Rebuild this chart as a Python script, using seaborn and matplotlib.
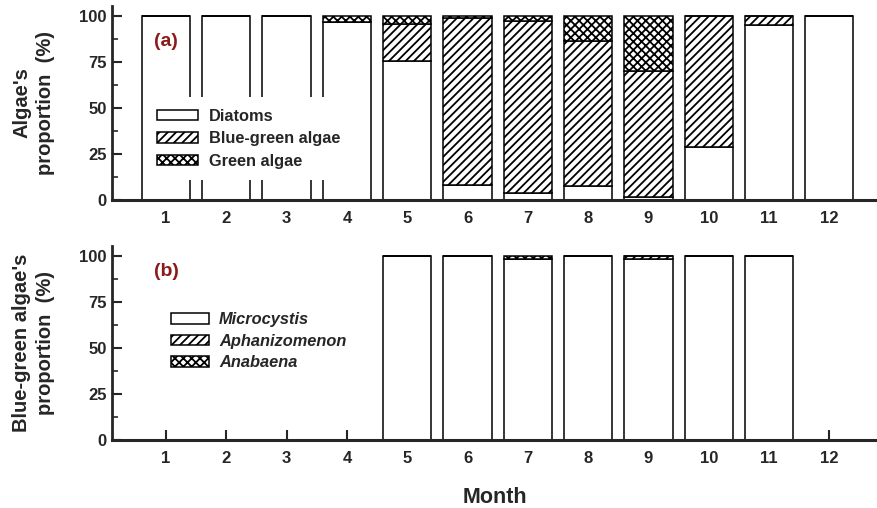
import numpy as np
import pandas as pd
import matplotlib
matplotlib.use('Agg')
import matplotlib.pyplot as plt
import seaborn as sns

sns.set_style('ticks')
plt.rcParams['font.family'] = ['Liberation Sans', 'DejaVu Sans']
plt.rcParams['hatch.linewidth'] = 1.3

# data (percent of total)
months = list(range(1, 13))

# (a) algae groups
diatoms = [100, 100, 100, 96.5, 75.5, 8.2, 3.6, 7.8, 1.8, 29, 95, 100]
blue_green = [0, 0, 0, 0, 20.3, 90.5, 93.9, 78.8, 68.5, 71, 5, 0]
green = [0, 0, 0, 3.5, 4.2, 1.3, 2.5, 13.4, 29.7, 0, 0, 0]

# (b) blue-green algae genera
microcystis = [0, 0, 0, 0, 100, 100, 98.5, 100, 98.5, 100, 100, 0]
aphanizomenon = [0, 0, 0, 0, 0, 0, 0, 0, 1.5, 0, 0, 0]
anabaena = [0, 0, 0, 0, 0, 0, 1.5, 0, 0, 0, 0, 0]

labels_a = ['Diatoms', 'Blue-green algae', 'Green algae']
labels_b = ['Microcystis', 'Aphanizomenon', 'Anabaena']
hatches = ['', '////', 'xxxx']

fig = plt.figure(figsize=(8.77, 5.08), dpi=100)
ax_a = fig.add_axes([112 / 877, 1 - 200 / 508, 765 / 877, 194 / 508])
ax_b = fig.add_axes([112 / 877, 1 - 440 / 508, 765 / 877, 194 / 508])


def stacked(ax, layers, names):
    bottom = np.zeros(len(months))
    for vals, name, h in zip(layers, names, hatches):
        df = pd.DataFrame({'month': months, 'pct': vals})
        sns.barplot(data=df, x='month', y='pct', native_scale=True, width=0.8,
                    color='white', edgecolor='black', linewidth=1.1, hatch=h,
                    bottom=bottom, errorbar=None, label=name, ax=ax)
        bottom = bottom + np.array(vals)


stacked(ax_a, [diatoms, blue_green, green], labels_a)
stacked(ax_b, [microcystis, aphanizomenon, anabaena], labels_b)

for ax, ylab in [(ax_a, "Algae's\nproportion  (%)"),
                 (ax_b, "Blue-green algae's\nproportion  (%)")]:
    ax.set_xlim(0.1045, 12.79)
    ax.set_ylim(0, 105.4)
    ax.set_xticks(months)
    ax.set_xticklabels([str(m) for m in months], fontweight='bold', fontsize=12)
    ax.set_yticks([0, 25, 50, 75, 100])
    ax.set_yticklabels(['0', '25', '50', '75', '100'], fontweight='bold', fontsize=12)
    ax.set_yticks(np.arange(12.5, 100, 25), minor=True)
    ax.tick_params(axis='both', which='major', direction='in', length=7, width=1.5)
    ax.tick_params(axis='y', which='minor', direction='in', length=4, width=1.2)
    ax.tick_params(axis='x', pad=8)
    ax.tick_params(axis='y', pad=4)
    ax.set_axisbelow(True)
    sns.despine(ax=ax)
    ax.spines['left'].set_linewidth(2)
    ax.spines['bottom'].set_linewidth(2.2)
    ax.set_ylabel(ylab, fontsize=14.5, fontweight='bold', linespacing=1.3)
    ax.yaxis.set_label_coords(-0.075, 0.5)
    ax.set_xlabel('')

ax_a.text(1, 86, '(a)', color='#8b1a1a', fontsize=14, fontweight='bold',
          ha='center', va='center')
ax_b.text(1, 91.5, '(b)', color='#8b1a1a', fontsize=14, fontweight='bold',
          ha='center', va='center')

leg_a = ax_a.legend(loc='upper left', bbox_to_anchor=(0.043, 0.531), borderaxespad=0,
                    borderpad=0.72, frameon=True, fancybox=False, edgecolor='none',
                    facecolor='white', framealpha=1, handlelength=2.55,
                    handleheight=0.6, handletextpad=0.65, labelspacing=0.45,
                    prop={'size': 11.8, 'weight': 'bold'})
leg_b = ax_b.legend(loc='upper left', bbox_to_anchor=(0.0614, 0.7196), borderaxespad=0,
                    borderpad=0.72, frameon=False, handlelength=2.35,
                    handleheight=0.6, handletextpad=0.6, labelspacing=0.4,
                    prop={'size': 11.8, 'weight': 'bold', 'style': 'italic'})
for leg in (leg_a, leg_b):
    for p in leg.get_patches():
        p.set_linewidth(1.1)

ax_b.set_xlabel('Month', fontsize=15.5, fontweight='bold')
ax_b.xaxis.set_label_coords(0.5, -0.242)

fig.savefig('out.png', dpi=100)
